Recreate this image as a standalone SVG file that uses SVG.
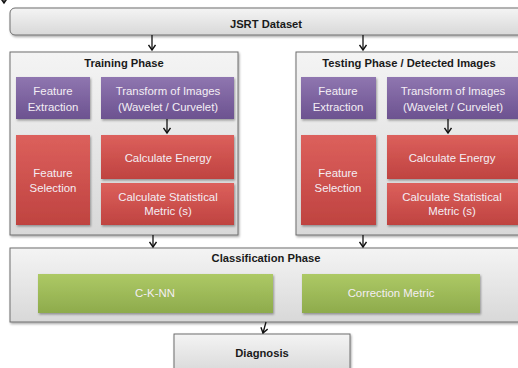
<svg xmlns="http://www.w3.org/2000/svg" width="518" height="368" viewBox="0 0 518 368">
<defs>
<linearGradient id="gGray" x1="0" y1="0" x2="0" y2="1"><stop offset="0" stop-color="#f4f4f4"/><stop offset="1" stop-color="#d8d8d8"/></linearGradient>
<linearGradient id="gPurple" x1="0" y1="0" x2="0" y2="1"><stop offset="0" stop-color="#8f76b0"/><stop offset="1" stop-color="#6c5290"/></linearGradient>
<linearGradient id="gRed" x1="0" y1="0" x2="0" y2="1"><stop offset="0" stop-color="#dc605c"/><stop offset="1" stop-color="#bf4340"/></linearGradient>
<linearGradient id="gGreen" x1="0" y1="0" x2="0" y2="1"><stop offset="0" stop-color="#adc965"/><stop offset="1" stop-color="#8eab4c"/></linearGradient>
<filter id="sh" x="-5%" y="-10%" width="110%" height="125%"><feDropShadow dx="1" dy="1.5" stdDeviation="1.2" flood-color="#000" flood-opacity="0.35"/></filter>
<marker id="ah" markerWidth="8" markerHeight="8" refX="6.5" refY="4" orient="auto" markerUnits="userSpaceOnUse" viewBox="0 0 8 8">
<path d="M1.5,0.5 L6.5,4 L1.5,7.5" fill="none" stroke="#111" stroke-width="1.4"/>
</marker>
<style>
.gray{fill:url(#gGray);stroke:#6e6e6e;stroke-width:1;filter:url(#sh)}
.pur{fill:url(#gPurple);filter:url(#sh)}
.red{fill:url(#gRed);filter:url(#sh)}
.grn{fill:url(#gGreen);filter:url(#sh)}
.t{font-family:"Liberation Sans",Arial,sans-serif;font-size:11.2px;font-weight:bold;fill:#1a1a1a;text-anchor:middle}
.w{font-family:"Liberation Sans",Arial,sans-serif;font-size:11.4px;fill:#f4eef4;text-anchor:middle}
.c{stroke:#111;stroke-width:1.3;fill:none;marker-end:url(#ah)}
</style>
</defs>
<rect width="518" height="368" fill="#ffffff"/>

<g id="jsrt"><rect class="gray" x="10" y="8" width="520" height="27" rx="5"/><text class="t" x="266" y="28">JSRT Dataset</text></g>

<g id="training"><rect class="gray" x="10" y="52" width="228" height="183"/><text class="t" x="124" y="67">Training Phase</text></g>
<g id="testing"><rect class="gray" x="296" y="52" width="240" height="183"/><text class="t" x="409" y="67">Testing Phase / Detected Images</text></g>

<g id="fe1"><rect class="pur" x="16" y="77" width="74" height="42"/><text class="w" x="53" y="95">Feature</text><text class="w" x="53" y="111">Extraction</text></g>
<g id="tr1"><rect class="pur" x="101" y="77" width="133" height="42"/><text class="w" x="168" y="95">Transform of Images</text><text class="w" x="168" y="111">(Wavelet / Curvelet)</text></g>
<g id="fs1"><rect class="red" x="16" y="135" width="74" height="90"/><text class="w" x="53" y="177">Feature</text><text class="w" x="53" y="192">Selection</text></g>
<g id="ce1"><rect class="red" x="101" y="135" width="133" height="44"/><text class="w" x="168" y="162">Calculate Energy</text></g>
<g id="cs1"><rect class="red" x="101" y="183" width="133" height="42"/><text class="w" x="168" y="201">Calculate Statistical</text><text class="w" x="168" y="215">Metric (s)</text></g>

<g id="fe2"><rect class="pur" x="301" y="77" width="75" height="42"/><text class="w" x="338" y="95">Feature</text><text class="w" x="338" y="111">Extraction</text></g>
<g id="tr2"><rect class="pur" x="387" y="77" width="140" height="42"/><text class="w" x="453" y="95">Transform of Images</text><text class="w" x="453" y="111">(Wavelet / Curvelet)</text></g>
<g id="fs2"><rect class="red" x="301" y="135" width="75" height="90"/><text class="w" x="338" y="177">Feature</text><text class="w" x="338" y="192">Selection</text></g>
<g id="ce2"><rect class="red" x="387" y="135" width="140" height="44"/><text class="w" x="452" y="162">Calculate Energy</text></g>
<g id="cs2"><rect class="red" x="387" y="183" width="140" height="42"/><text class="w" x="452" y="201">Calculate Statistical</text><text class="w" x="452" y="215">Metric (s)</text></g>

<g id="classification"><rect class="gray" x="10" y="248" width="520" height="74"/><text class="t" x="266" y="262">Classification Phase</text></g>
<g id="cknn"><rect class="grn" x="38" y="274" width="235" height="39"/><text class="w" x="155" y="297">C-K-NN</text></g>
<g id="corr"><rect class="grn" x="302" y="274" width="178" height="39"/><text class="w" x="391" y="297">Correction Metric</text></g>

<g id="diagnosis"><rect class="gray" x="174" y="334" width="176" height="40"/><text class="t" x="262" y="357">Diagnosis</text></g>

<g id="connectors">
<path class="c" d="M152,35 V50"/>
<path class="c" d="M363,35 V50"/>
<path class="c" d="M167,119 V133"/>
<path class="c" d="M448,119 V133"/>
<path class="c" d="M153,235 V247"/>
<path class="c" d="M363,235 V247"/>
<path class="c" d="M266,322 L263,333"/>
<path class="c" d="M4,-6 V3"/>
</g>
</svg>
